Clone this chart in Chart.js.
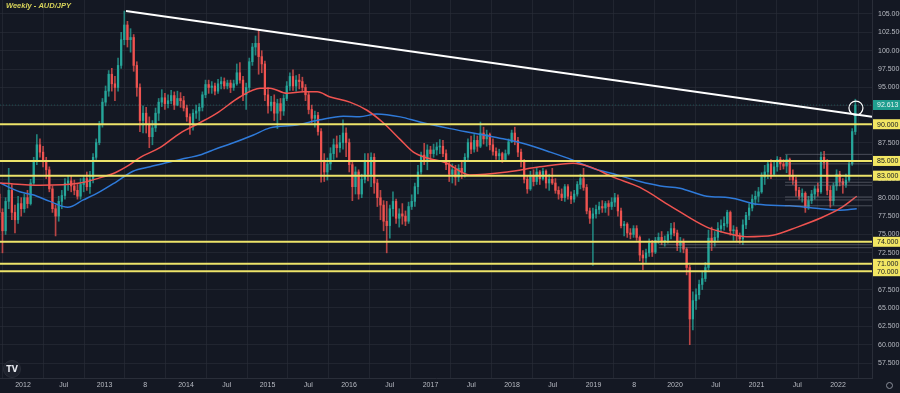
<!DOCTYPE html>
<html>
<head>
<meta charset="utf-8">
<title>Weekly - AUD/JPY</title>
<script src="https://cdn.jsdelivr.net/npm/chart.js@4.4.1/dist/chart.umd.min.js"></script>
<style>
  html, body { margin: 0; padding: 0; background: #141823; }
  #wrap { width: 900px; height: 393px; position: relative; }
</style>
</head>
<body>
<div id="wrap"><canvas id="chart" width="900" height="393"></canvas></div>
<script>
// two-week candles, first one starts mid-Sep 2011
const startYear = 2011.71;
const stepYears = 14 / 365.25;
const firstOpen = 80.5;

const closes = [
  78.0, 75.5, 79.5, 81.0, 78.0, 77.0, 79.2, 78.5, 80.0, 79.2,
  82.0, 85.0, 87.2, 86.2, 85.0, 83.8, 81.2, 78.5, 77.5, 79.5,
  80.3, 82.0, 82.3, 81.6, 81.0, 80.2, 81.8, 82.6, 81.5, 82.5,
  85.5, 87.5, 90.0, 93.0, 94.5, 96.8, 95.5, 95.0, 98.0, 101.5,
  103.5, 101.5, 101.8, 98.0, 95.0, 90.5, 91.5, 90.0, 88.3, 89.5,
  91.5, 93.0, 93.6, 92.8, 93.2, 93.9, 92.6, 93.5, 93.2, 92.2,
  91.0, 90.0, 91.5, 91.8, 92.3, 94.0, 95.4, 95.0, 95.2, 94.5,
  95.5, 95.8, 95.2, 95.6, 95.0, 95.5, 97.0, 96.0, 94.0, 95.0,
  98.5, 100.5, 101.0, 99.2, 98.2, 94.0, 92.5, 93.0, 91.5, 92.8,
  91.8, 93.5, 95.2, 96.5, 95.2, 96.0, 95.8, 95.0, 94.0, 92.0,
  90.8, 91.2, 89.0, 85.0, 83.5, 84.6, 86.0, 87.2, 86.8, 87.5,
  88.8, 87.5, 84.5, 81.5, 83.5, 80.5, 82.5, 85.0, 83.2, 85.5,
  82.0, 80.0, 79.0, 76.8, 76.2, 78.5, 79.5, 77.2, 77.8, 77.5,
  76.8, 78.8, 79.5, 81.5, 83.5, 85.8, 85.0, 86.5, 86.0, 86.5,
  86.9, 87.0, 86.0, 84.5, 83.2, 83.8, 82.8, 84.0, 83.5, 85.5,
  87.5, 86.6, 87.8, 87.0, 88.8, 88.0, 88.6, 87.2, 86.3, 85.7,
  86.0, 85.2, 86.0, 87.6, 88.8, 87.8, 86.2, 85.0, 82.5, 81.2,
  83.0, 82.2, 83.5, 82.6, 83.6, 82.0, 82.5, 82.0, 81.0, 80.5,
  80.0, 81.5, 80.2, 79.8, 80.5, 81.8, 82.6, 81.4, 78.2, 77.2,
  77.8, 78.4, 78.8, 78.6, 79.2, 78.8, 79.4, 80.0, 78.2, 76.2,
  76.4, 75.2, 75.0, 75.8, 74.6, 72.2, 71.8, 72.5, 73.8, 72.6,
  74.2, 74.6, 74.0, 74.2, 75.0, 75.8, 75.2, 73.5, 74.0, 73.0,
  70.5, 63.5, 66.0, 66.8, 68.2, 69.0, 70.5, 74.5, 74.0, 74.6,
  75.8, 76.2, 76.5, 78.0, 75.5, 75.6, 74.8, 74.4, 76.3, 77.6,
  78.6, 79.8, 80.2, 80.8, 82.8, 83.5, 84.6, 83.2, 84.2, 85.2,
  84.6, 84.3, 85.2, 83.0, 82.4, 81.0, 80.2, 80.6, 78.6, 79.6,
  80.5, 81.2, 80.8, 85.5, 84.8, 81.0, 79.6, 81.6, 83.2, 82.2,
  81.8, 82.4, 84.6, 89.0, 92.613
];

const highs = [
  81.5, 78.5, 80.0, 84.0, 81.8, 79.0, 80.2, 80.0, 80.5, 81.0,
  82.5, 85.5, 88.6, 88.0, 87.0, 85.5, 84.2, 81.6, 79.0, 80.2,
  81.0, 82.6, 83.0, 83.0, 82.4, 81.8, 82.6, 83.0, 83.5, 83.6,
  86.0, 88.0, 90.4, 93.5, 95.2, 97.3, 97.6, 96.5, 99.0, 102.5,
  105.4, 104.0, 103.0, 102.2, 98.5, 95.5, 92.5, 92.3, 91.0, 90.5,
  92.2, 93.5, 94.7, 94.2, 94.0, 94.6, 94.4, 94.5, 94.3, 93.8,
  92.6, 91.4, 92.0, 92.6, 92.8, 94.4, 96.0, 96.0, 95.8, 95.6,
  96.1, 96.4, 96.3, 96.0, 96.0, 96.0, 98.2, 98.4, 96.5, 95.6,
  99.0, 101.0, 102.0, 102.8, 100.0, 98.6, 95.0, 93.8, 94.0, 93.4,
  93.5, 94.0, 95.8, 97.0, 97.4, 96.6, 96.8, 96.4, 95.4, 94.4,
  92.6, 91.8, 91.6, 89.4, 86.0, 85.4, 86.8, 88.0, 88.4, 88.5,
  90.6, 89.5, 88.0, 85.0, 84.2, 83.8, 83.2, 86.0, 86.0, 86.1,
  86.0, 82.5, 81.0, 79.6, 79.5, 79.0, 80.8, 79.8, 78.5, 79.2,
  78.2, 79.4, 80.4, 82.0, 84.4, 86.2, 87.4, 87.2, 87.0, 87.3,
  87.5, 87.9, 87.8, 86.5, 85.0, 84.6, 84.4, 84.5, 85.0, 86.0,
  88.0, 88.4, 88.6, 88.4, 90.3, 89.6, 89.2, 88.8, 88.0, 86.8,
  86.6, 86.2, 86.5, 88.0, 89.2, 89.6, 88.2, 86.6, 85.2, 83.0,
  83.6, 83.8, 84.0, 83.7, 84.0, 83.8, 83.2, 84.0, 82.6, 81.5,
  81.2, 81.8, 81.8, 80.8, 81.0, 82.2, 83.2, 84.0, 81.8, 78.6,
  78.6, 79.0, 79.4, 79.6, 79.5, 79.6, 80.0, 80.6, 80.4, 78.6,
  76.8, 76.6, 75.8, 76.2, 76.2, 74.8, 72.8, 73.0, 74.4, 74.2,
  74.6, 75.2, 75.4, 74.8, 75.4, 76.5, 76.6, 75.6, 74.6, 74.4,
  73.2, 70.8, 67.2, 67.6, 68.8, 70.0, 71.2, 75.6, 76.0, 75.4,
  76.6, 77.0, 77.4, 78.3, 78.2, 76.2, 76.0, 75.2, 77.0, 78.0,
  79.2, 80.4, 80.9, 81.4, 83.4, 84.4, 85.0, 85.2, 85.0, 85.6,
  85.5, 85.2, 85.8, 85.4, 83.8, 82.8, 81.4, 81.2, 80.8, 80.2,
  81.0, 81.6, 82.0, 86.2, 86.3, 85.2, 81.6, 82.0, 83.8, 83.6,
  82.6, 83.2, 85.0, 89.4, 93.4
];

const lows = [
  77.0, 72.5, 75.0, 78.5, 77.0, 75.2, 76.5, 77.5, 78.0, 78.6,
  79.0, 81.8, 84.5, 85.5, 84.2, 82.6, 80.8, 78.0, 74.8, 76.8,
  78.5, 79.8, 81.0, 80.8, 80.4, 79.8, 79.8, 80.8, 81.0, 80.6,
  82.0, 85.2, 87.2, 89.6, 92.5, 93.8, 94.5, 93.2, 94.5, 97.6,
  100.8, 100.5, 99.8, 97.2, 93.8, 89.0, 88.8, 88.8, 86.8, 87.2,
  89.0, 90.5, 92.4, 92.0, 92.2, 92.8, 92.0, 92.5, 92.3, 91.8,
  90.4, 88.6, 89.2, 90.8, 90.5, 91.8, 93.6, 94.2, 94.2, 94.0,
  94.2, 94.8, 94.8, 94.8, 94.3, 94.6, 95.3, 95.6, 93.2, 92.0,
  94.5, 98.0, 99.4, 96.8, 97.0, 93.2, 91.5, 91.8, 90.5, 89.4,
  90.6, 91.2, 93.2, 94.6, 94.6, 94.5, 94.8, 94.4, 93.2, 91.4,
  90.2, 89.6, 88.5, 82.1, 82.2, 82.4, 83.8, 85.2, 85.5, 86.2,
  86.6, 85.6, 83.5, 79.6, 80.5, 79.8, 80.0, 82.0, 82.3, 81.5,
  80.6, 78.8, 77.0, 75.5, 72.5, 74.5, 77.5, 76.5, 76.0, 76.4,
  76.2, 76.5, 78.4, 78.8, 80.5, 83.2, 84.5, 83.8, 85.0, 85.5,
  85.8, 86.0, 85.6, 83.8, 82.2, 82.0, 81.7, 82.2, 82.6, 82.8,
  85.0, 86.0, 86.2, 86.3, 86.8, 87.3, 87.0, 86.5, 85.8, 85.2,
  84.9, 84.8, 84.9, 85.8, 87.5, 87.2, 85.6, 84.2, 82.0, 80.6,
  81.0, 81.6, 81.8, 81.8, 82.4, 81.3, 81.0, 81.8, 80.6, 79.8,
  79.6, 79.5, 79.8, 79.2, 79.4, 80.2, 81.2, 81.0, 77.8, 76.5,
  70.8, 77.2, 77.8, 78.0, 78.0, 77.6, 78.4, 78.8, 77.5, 75.9,
  74.8, 74.6, 74.4, 74.6, 74.2, 71.4, 70.2, 71.2, 72.0, 72.0,
  72.4, 73.8, 73.6, 73.4, 73.8, 74.4, 74.8, 72.8, 72.6, 72.5,
  69.5, 60.0, 62.0, 64.8, 66.2, 67.5, 68.6, 70.2, 72.8, 73.4,
  74.2, 75.3, 75.6, 76.0, 74.9, 74.2, 74.0, 73.8, 73.6, 75.8,
  77.0, 78.2, 79.0, 79.4, 80.6, 81.8, 82.6, 82.6, 83.0, 83.6,
  83.8, 83.9, 83.4, 82.4, 81.8, 80.2, 79.8, 79.4, 78.0, 78.4,
  79.2, 79.8, 80.2, 80.6, 84.0, 80.4, 78.7, 79.0, 81.0, 81.6,
  80.6, 81.4, 82.2, 84.4, 88.6
];

// moving averages (red = 100, blue = 200)
const ma100Years = [2011.72, 2012.21, 2012.70, 2012.94, 2013.13, 2013.31, 2013.44, 2013.68, 2013.93, 2014.17,
  2014.38, 2014.66, 2014.91, 2015.03, 2015.24, 2015.44, 2015.61, 2015.77, 2016.01, 2016.22,
  2016.42, 2016.63, 2016.79, 2016.96, 2017.18, 2017.48, 2017.94, 2018.34, 2018.75, 2018.96,
  2019.24, 2019.57, 2019.94, 2020.39, 2020.59, 2020.88, 2021.20, 2021.50, 2021.78, 2022.02, 2022.23];
const ma100 = [82.0, 81.7, 82.0, 82.7, 83.4, 84.5, 85.5, 86.8, 88.8, 90.2,
  91.5, 93.7, 94.9, 94.9, 94.2, 94.4, 94.4, 93.7, 93.0, 91.9,
  90.2, 87.9, 86.2, 85.4, 84.8, 83.1, 83.5, 84.2, 84.7, 84.2,
  82.8, 81.4, 78.9, 76.0, 75.3, 74.7, 74.9, 76.0, 77.2, 78.5, 80.2];

const ma200Years = [2011.72, 2011.96, 2012.12, 2012.33, 2012.55, 2012.74, 2012.94, 2013.15, 2013.35, 2013.56,
  2013.77, 2014.01, 2014.17, 2014.38, 2014.54, 2014.82, 2015.03, 2015.36, 2015.64, 2015.93,
  2016.13, 2016.34, 2016.63, 2016.87, 2017.24, 2017.52, 2017.85, 2018.13, 2018.47, 2018.75,
  2018.99, 2019.29, 2019.57, 2019.82, 2020.06, 2020.39, 2020.67, 2021.01, 2021.41, 2021.69, 2022.02, 2022.23];
const ma200 = [82.0, 80.8, 80.4, 79.5, 78.7, 79.7, 80.8, 82.2, 83.6, 84.2,
  84.8, 85.4, 85.8, 86.7, 87.3, 88.5, 89.5, 89.9, 90.6, 91.1,
  91.0, 91.4, 91.0, 90.3, 89.4, 88.8, 88.1, 87.4, 86.2, 85.1,
  84.0, 83.1, 82.2, 81.6, 81.3, 80.2, 80.0, 79.1, 78.9, 78.6, 78.3, 78.5];

// drawn levels
const levels = [90, 85, 83, 74, 71, 70];
const lastPrice = 92.613;
const trendYears = [2013.264, 2022.417];
const trendValues = [105.4, 91.0];
const circleYear = 2022.22;
const circleValue = 92.2;
const boxLevels2021 = [85.9, 84.6, 82.1, 81.7, 80.1, 79.7, 78.9];
const boxLevels2020 = [73.6, 73.2];

const xMin = 2011.718, xMax = 2022.417;
const yMin = 55.47, yMax = 106.9;

const xTickValues = [2012, 2012.5, 2013, 2013.5, 2014, 2014.5, 2015, 2015.5, 2016, 2016.5, 2017, 2017.5,
  2018, 2018.5, 2019, 2019.5, 2020, 2020.5, 2021, 2021.5, 2022];
const xTickLabels = ['2012', 'Jul', '2013', '8', '2014', 'Jul', '2015', 'Jul', '2016', 'Jul', '2017', 'Jul',
  '2018', 'Jul', '2019', '8', '2020', 'Jul', '2021', 'Jul', '2022'];
const yTickValues = [57.5, 60, 62.5, 65, 67.5, 70, 72.5, 75, 77.5, 80, 82.5, 85, 87.5, 90, 92.5, 95, 97.5, 100, 102.5, 105];

const UP = '#26a69a', DOWN = '#ef5350';
const YELLOW = '#ede36a';

// candles
const candles = closes.map((c, i) => {
  const o = i === 0 ? firstOpen : closes[i - 1];
  return {
    t: startYear + i * stepYears,
    o: o, c: c,
    h: Math.max(highs[i], o, c),
    l: Math.min(lows[i], o, c)
  };
});
const candleColors = candles.map(k => k.c >= k.o ? UP : DOWN);
const wickColors = candles.map(k => k.c >= k.o ? 'rgba(38,166,154,0.75)' : 'rgba(239,83,80,0.75)');

function hline(v, x0, x1, color, width, dash) {
  return {
    type: 'line',
    data: [{ x: x0, y: v }, { x: x1, y: v }],
    borderColor: color,
    borderWidth: width,
    borderDash: dash || [],
    pointRadius: 0,
    order: 3
  };
}

const datasets = [
  {
    type: 'bar',
    data: candles.map(k => ({ x: k.t, y: [k.l, k.h] })),
    backgroundColor: wickColors,
    barThickness: 1,
    grouped: false,
    order: 11
  },
  {
    type: 'bar',
    data: candles.map(k => ({ x: k.t, y: [k.o, k.c] })),
    backgroundColor: candleColors,
    barThickness: 1.6,
    grouped: false,
    minBarLength: 1,
    order: 10
  },
  {
    type: 'line',
    data: ma100Years.map((t, i) => ({ x: t, y: ma100[i] })),
    borderColor: '#ef5350',
    borderWidth: 1.5,
    pointRadius: 0,
    cubicInterpolationMode: 'monotone',
    order: 5
  },
  {
    type: 'line',
    data: ma200Years.map((t, i) => ({ x: t, y: ma200[i] })),
    borderColor: '#2f7ad9',
    borderWidth: 1.5,
    pointRadius: 0,
    cubicInterpolationMode: 'monotone',
    order: 5
  },
  hline(lastPrice, xMin, xMax, 'rgba(38,166,154,0.35)', 1, [1, 2])
];

boxLevels2021.forEach(v => datasets.push(hline(v, 2021.35, xMax, 'rgba(140,143,155,0.45)', 1)));
boxLevels2020.forEach(v => datasets.push(hline(v, 2019.8, xMax, 'rgba(140,143,155,0.45)', 1)));
levels.forEach(v => datasets.push(hline(v, xMin, xMax, YELLOW, 2)));

datasets.push({
  type: 'line',
  data: trendYears.map((t, i) => ({ x: t, y: trendValues[i] })),
  borderColor: '#ffffff',
  borderWidth: 2,
  pointRadius: 0,
  order: 2
});
datasets.push({
  type: 'line',
  data: [{ x: circleYear, y: circleValue }],
  showLine: false,
  pointRadius: 7,
  pointBorderColor: '#ffffff',
  pointBorderWidth: 1.2,
  pointBackgroundColor: 'rgba(0,0,0,0)',
  clip: false,
  order: 1
});

// no extra room for edge labels: plot starts at the canvas edge
function noPad(s) {
  s.paddingLeft = 0;
  s.paddingRight = 0;
  s.paddingTop = 0;
  s.paddingBottom = 0;
}

const decor = {
  id: 'decor',
  beforeDraw(chart) {
    const ctx = chart.ctx;
    ctx.save();
    ctx.fillStyle = '#141823';
    ctx.fillRect(0, 0, chart.width, chart.height);
    ctx.restore();
  },
  afterDraw(chart) {
    const ctx = chart.ctx;
    const y = chart.scales.y;
    const area = chart.chartArea;
    ctx.save();
    // title
    ctx.font = 'italic bold 7.5px "Liberation Sans"';
    ctx.fillStyle = '#d8d35a';
    ctx.textBaseline = 'middle';
    ctx.textAlign = 'left';
    ctx.fillText('Weekly - AUD/JPY', 6, 6);

    // price boxes
    ctx.font = '7px "Liberation Sans"';
    levels.forEach(v => {
      const py = y.getPixelForValue(v);
      ctx.fillStyle = '#f2e663';
      ctx.fillRect(area.right + 1, py - 5, chart.width - area.right - 1, 10);
      ctx.fillStyle = '#131722';
      ctx.fillText(v.toFixed(3), area.right + 5, py + 0.5);
    });
    const lp = y.getPixelForValue(lastPrice);
    ctx.fillStyle = '#1f9e8f';
    ctx.fillRect(area.right + 1, lp - 5, chart.width - area.right - 1, 10);
    ctx.fillStyle = '#e8f4f2';
    ctx.fillText(lastPrice.toFixed(3), area.right + 5, lp + 0.5);

    // TradingView logo
    ctx.beginPath();
    ctx.arc(12, 369, 8.5, 0, Math.PI * 2);
    ctx.fillStyle = '#1e222d';
    ctx.fill();
    ctx.strokeStyle = '#2a2e39';
    ctx.lineWidth = 1;
    ctx.stroke();
    ctx.fillStyle = '#e6e8ee';
    ctx.font = 'bold 8px "DejaVu Sans"';
    ctx.textAlign = 'center';
    ctx.fillText('TV', 12, 369.5);

    // settings gear
    ctx.beginPath();
    ctx.arc(889.5, 385.5, 3, 0, Math.PI * 2);
    ctx.strokeStyle = '#8a8e99';
    ctx.stroke();
    ctx.restore();
  }
};

new Chart(document.getElementById('chart'), {
  type: 'bar',
  data: { datasets: datasets },
  options: {
    responsive: false,
    animation: false,
    devicePixelRatio: 1,
    layout: { padding: 0, autoPadding: false },
    plugins: { legend: { display: false }, tooltip: { enabled: false } },
    scales: {
      x: {
        type: 'linear',
        min: xMin,
        max: xMax,
        offset: false,
        grid: { color: 'rgba(42,46,57,0.6)', drawTicks: false },
        border: { color: '#2a2e39' },
        afterBuildTicks: s => { s.ticks = xTickValues.map(v => ({ value: v })); },
        afterFit: s => { s.height = 15; noPad(s); },
        ticks: {
          autoSkip: false,
          maxRotation: 0,
          padding: 3,
          color: '#b8bbc3',
          font: { family: 'Liberation Sans', size: 7 },
          callback: v => {
            const i = xTickValues.findIndex(t => Math.abs(t - v) < 1e-6);
            return i >= 0 ? xTickLabels[i] : '';
          }
        }
      },
      y: {
        type: 'linear',
        position: 'right',
        min: yMin,
        max: yMax,
        grid: { color: 'rgba(42,46,57,0.6)', drawTicks: false },
        border: { color: '#2a2e39' },
        afterBuildTicks: s => { s.ticks = yTickValues.map(v => ({ value: v })); },
        afterFit: s => { s.width = 28; noPad(s); },
        ticks: {
          padding: 6,
          color: '#b8bbc3',
          font: { family: 'Liberation Sans', size: 7 },
          callback: v => v.toFixed(3)
        }
      }
    }
  },
  plugins: [decor]
});
</script>
</body>
</html>
